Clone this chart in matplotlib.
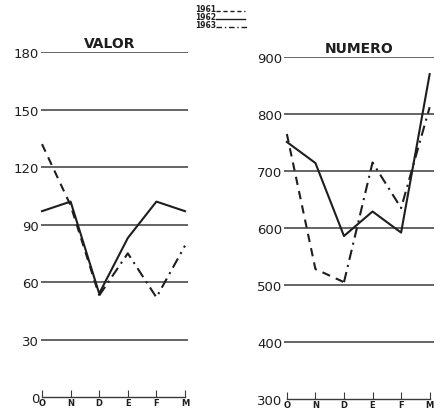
import matplotlib.pyplot as plt

# months on the x axis
months = ['O', 'N', 'D', 'E', 'F', 'M']

# VALOR panel
valor_1961 = [132, 100, 53]          # O, N, D
valor_1962 = [97, 102, 54, 83, 102, 97]
valor_1963 = [53, 75, 52, 79]        # D, E, F, M
valor_ticks = [0, 30, 60, 90, 120, 150, 180]

# NUMERO panel
numero_1961 = [765, 528, 505]        # O, N, D
numero_1962 = [751, 714, 586, 629, 592, 870]
numero_1963 = [505, 715, 635, 812]   # D, E, F, M
numero_ticks = [300, 400, 500, 600, 700, 800, 900]

ink = '#1e1e1e'
grid_c = '#3a3a3a'

fig = plt.figure(figsize=(4.41, 4.14), dpi=100)
fig.patch.set_facecolor('white')

ax1 = fig.add_axes([0.092, 0.0386, 0.334, 0.833])
ax2 = fig.add_axes([0.644, 0.0338, 0.340, 0.826])


def style(ax, ticks, xlim):
    ax.set_xlim(*xlim)
    ax.set_ylim(ticks[0], ticks[-1])
    for s in ['left', 'right', 'top']:
        ax.spines[s].set_visible(False)
    ax.spines['bottom'].set_color(grid_c)
    ax.spines['bottom'].set_linewidth(1.0)
    ax.spines['bottom'].set_bounds(0, 5)
    ax.set_xticks(range(len(months)))
    ax.set_xticklabels(months, fontsize=6, fontweight='bold', color=ink)
    ax.tick_params(axis='x', direction='in', length=5, width=0.8,
                   color=grid_c, pad=1)
    ax.set_yticks(ticks)
    ax.set_yticklabels([str(t) for t in ticks], fontsize=9.5, color=ink)
    ax.tick_params(axis='y', length=0, pad=1)
    for t in ticks[1:]:
        ax.axhline(t, color=grid_c, lw=1.1, zorder=1)
    ax.set_facecolor('white')


style(ax1, valor_ticks, (-0.05, 5.1))
style(ax2, numero_ticks, (-0.1, 5.15))

x_all = list(range(6))
kw = dict(color=ink, lw=1.5, clip_on=False, zorder=3)

ax1.plot(x_all[:3], valor_1961, linestyle=(0, (4, 3)), **kw)
ax1.plot(x_all, valor_1962, linestyle='-', **kw)
ax1.plot(x_all[2:], valor_1963, linestyle=(0, (5, 2.5, 1, 2.5)), **kw)

ax2.plot(x_all[:3], numero_1961, linestyle=(0, (4, 3)), **kw)
ax2.plot(x_all, numero_1962, linestyle='-', **kw)
ax2.plot(x_all[2:], numero_1963, linestyle=(0, (5, 2.5, 1, 2.5)), **kw)

ax1.text(0.47, 1.005, 'VALOR', transform=ax1.transAxes, ha='center',
         va='bottom', fontsize=10, fontweight='bold', color=ink)
ax2.text(0.5, 1.005, 'NUMERO', transform=ax2.transAxes, ha='center',
         va='bottom', fontsize=10, fontweight='bold', color=ink)

# legend block at the top centre
years = ['1961', '1962', '1963']
styles = [(0, (3, 2)), '-', (0, (4, 2, 1, 2))]
for i, (yr, ls) in enumerate(zip(years, styles)):
    yy = 0.978 - i * 0.02
    fig.text(0.443, yy, yr, fontsize=5.5, fontweight='bold', color=ink,
             va='center')
    fig.add_artist(plt.Line2D([0.49, 0.555 + 0.01 * (i == 2)], [yy - 0.006, yy - 0.006],
                              color=ink, lw=1.0, linestyle=ls,
                              transform=fig.transFigure))

fig.savefig('out.png', dpi=100, facecolor='white')
